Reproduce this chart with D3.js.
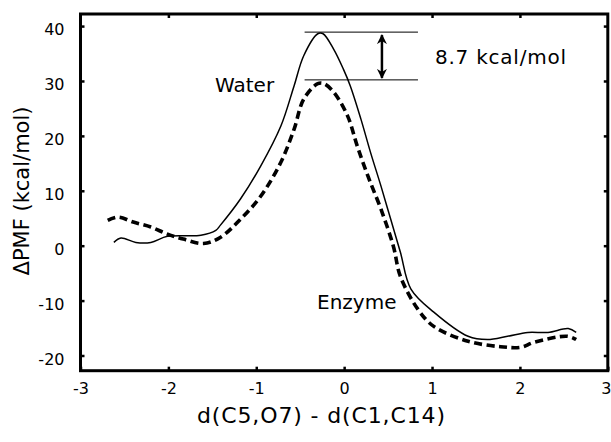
<!DOCTYPE html>
<html>
<head>
<meta charset="utf-8">
<script src="https://cdn.jsdelivr.net/npm/d3@7"></script>
<style>
  html, body { margin: 0; padding: 0; background: #fff; }
  svg { display: block; }
  text { font-family: "DejaVu Sans", Verdana, sans-serif; fill: #000; }
</style>
</head>
<body>
<svg id="chart" width="611" height="442"></svg>
<script>
// ---- data ----
const waterX = [-2.62,-2.54,-2.37,-2.20,-2.01,-1.63,-1.46,-1.41,-1.18,-0.95,-0.72,-0.57,-0.46,-0.30,-0.24,-0.12,-0.01,0.07,0.19,0.30,0.42,0.53,0.64,0.76,1.02,1.41,1.63,1.86,2.09,2.32,2.55,2.64];
const waterY = [0.6,1.4,0.6,0.6,1.7,1.9,2.8,3.7,8.5,14.5,21.8,29.1,34.6,38.6,38.6,35.8,32.2,29.1,23.1,17.0,10.8,4.8,-1.2,-7.9,-12.1,-16.5,-17.1,-16.5,-15.8,-15.8,-15.1,-15.8];
const enzymeX = [-2.69,-2.57,-2.40,-2.20,-2.01,-1.83,-1.60,-1.41,-1.18,-0.95,-0.72,-0.57,-0.46,-0.30,-0.23,-0.12,0.04,0.15,0.27,0.42,0.56,0.64,0.84,1.02,1.41,1.78,2.01,2.16,2.54,2.64];
const enzymeY = [4.6,5.2,4.3,3.4,2.1,1.2,0.4,1.5,4.8,9.0,15.2,21.2,26.7,29.5,29.5,28.0,23.6,18.1,12.7,6.6,-0.1,-5.6,-11.6,-14.7,-17.4,-18.4,-18.5,-17.6,-16.5,-17.1];
const xTicks = [-3,-2,-1,0,1,2,3];
const yTicks = [-20,-10,0,10,20,30,40];
const barrierLevels = [38.9, 30.2];      // water and enzyme barrier tops
const barrierSpan = [-0.45, 0.84];       // extent of reference lines (x units)
const arrowAt = 0.43;                    // x of double arrow
const barrierLabel = "8.7 kcal/mol";
const seriesLabels = ["Water", "Enzyme"];
const xTitle = "d(C5,O7) - d(C1,C14)";
const yTitle = "ΔPMF (kcal/mol)";

// ---- scales ----
const svg = d3.select("#chart");
const x = d3.scaleLinear().domain([-3, 3]).range([80.5, 607.8]);
const y = d3.scaleLinear().domain([-22.77, 42.2]).range([370.7, 14]);

const toPts = (xs, ys) => xs.map((v, i) => [v, ys[i]]);
const line = d3.line().x(d => x(d[0])).y(d => y(d[1])).curve(d3.curveCatmullRom.alpha(0.5));
const fmt = d => String(d);   // plain hyphen-minus as in the original

// ---- curves ----
svg.append("path").datum(toPts(waterX, waterY))
  .attr("d", line).attr("fill", "none").attr("stroke", "#000").attr("stroke-width", 1.5);
svg.append("path").datum(toPts(enzymeX, enzymeY))
  .attr("d", line).attr("fill", "none").attr("stroke", "#000").attr("stroke-width", 3.6)
  .attr("stroke-dasharray", "8,4.5");

// ---- frame ----
svg.append("rect")
  .attr("x", x(-3)).attr("y", y(42.2))
  .attr("width", x(3) - x(-3)).attr("height", y(-22.77) - y(42.2))
  .attr("fill", "none").attr("stroke", "#000").attr("stroke-width", 3);

// ---- axes (inward ticks) ----
const axB = d3.axisBottom(x).tickValues(xTicks).tickSize(-4).tickPadding(12).tickFormat(fmt);
const axT = d3.axisTop(x).tickValues(xTicks.slice(1, -1)).tickSize(-4).tickFormat("");
const axL = d3.axisLeft(y).tickValues(yTicks).tickSize(-4).tickPadding(16).tickFormat(fmt);
const axR = d3.axisRight(y).tickValues(yTicks).tickSize(-4).tickFormat("");

function style(g) {
  g.select(".domain").remove();
  g.selectAll(".tick line").attr("stroke", "#000").attr("stroke-width", 2.5);
  g.selectAll("text").style("font-family", '"DejaVu Sans", Verdana, sans-serif').style("font-size", "16px").attr("fill", "#000");
}
const gB = svg.append("g").attr("transform", `translate(0,${y(-22.77)})`).call(axB).call(style);
gB.selectAll(".tick text").filter(d => d === xTicks[xTicks.length - 1]).attr("dx", "-2");
svg.append("g").attr("transform", `translate(0,${y(42.2)})`).call(axT).call(style);
svg.append("g").attr("transform", `translate(${x(-3)},0)`).call(axL).call(style)
  .selectAll("text").attr("dy", "0.55em");
svg.append("g").attr("transform", `translate(${x(3)},0)`).call(axR).call(style);

// ---- barrier annotation ----
barrierLevels.forEach(v => {
  svg.append("line")
    .attr("x1", x(barrierSpan[0])).attr("x2", x(barrierSpan[1]))
    .attr("y1", y(v)).attr("y2", y(v))
    .attr("stroke", "#000").attr("stroke-width", 1);
});
const defs = svg.append("defs");
defs.append("marker").attr("id", "ah").attr("viewBox", "0 0 10 10")
  .attr("refX", 9).attr("refY", 5).attr("markerWidth", 4).attr("markerHeight", 4)
  .attr("markerUnits", "strokeWidth").attr("orient", "auto-start-reverse")
  .append("path").attr("d", "M0,0 L10,5 L0,10 L3,5 Z").attr("fill", "#000");
svg.append("line")
  .attr("x1", x(arrowAt)).attr("x2", x(arrowAt))
  .attr("y1", y(barrierLevels[0]) + 3).attr("y2", y(barrierLevels[1]) - 2)
  .attr("stroke", "#000").attr("stroke-width", 2.5)
  .attr("marker-start", "url(#ah)").attr("marker-end", "url(#ah)");

svg.append("text").attr("x", 435).attr("y", 64).style("font-size", "20px")
  .attr("textLength", 131).attr("lengthAdjust", "spacing").text(barrierLabel);
svg.append("text").attr("x", 215).attr("y", 92).style("font-size", "20px").text(seriesLabels[0]);
svg.append("text").attr("x", 317).attr("y", 309).style("font-size", "20px").text(seriesLabels[1]);

// ---- axis titles ----
svg.append("text").attr("x", 197).attr("y", 423)
  .style("font-size", "22px").attr("textLength", 248).attr("lengthAdjust", "spacing").text(xTitle);
svg.append("text").attr("transform", "translate(29,191) rotate(-90)").attr("text-anchor", "middle")
  .style("font-size", "21px").text(yTitle);
</script>
</body>
</html>
